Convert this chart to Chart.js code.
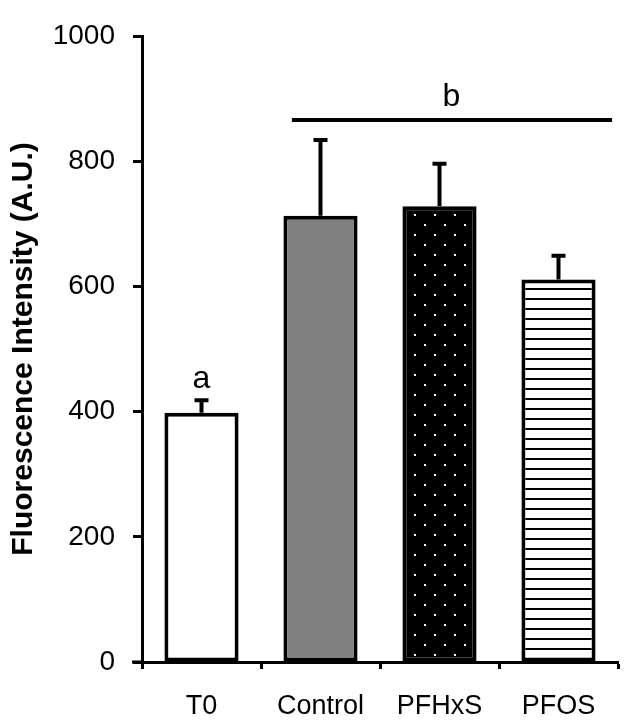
<!DOCTYPE html>
<html>
<head>
<meta charset="utf-8">
<script src="https://cdn.jsdelivr.net/npm/chart.js@4"></script>
<style>
  html, body { margin: 0; padding: 0; background: #fff; }
  #wrap { width: 644px; height: 725px; }
</style>
</head>
<body>
<div id="wrap"><canvas id="myChart" width="644" height="725"></canvas></div>
<script>
var groups = ['T0', 'Control', 'PFHxS', 'PFOS'];
var means = [398, 713, 728, 611];
var errors = [20, 121, 68, 38];
var yTicks = [0, 200, 400, 600, 800, 1000];
var letters = ['a', 'b'];

// dotted fill for PFHxS
function dotPattern() {
  var c = document.createElement('canvas');
  c.width = 20; c.height = 20;
  var g = c.getContext('2d');
  g.fillStyle = '#000';
  g.fillRect(0, 0, 20, 20);
  g.fillStyle = '#fff';
  g.fillRect(4, 4, 2, 2);
  g.fillRect(14, 14, 2, 2);
  return g.createPattern(c, 'repeat');
}

// horizontal stripes for PFOS
function stripePattern() {
  var c = document.createElement('canvas');
  c.width = 10; c.height = 10;
  var g = c.getContext('2d');
  g.fillStyle = '#fff';
  g.fillRect(0, 0, 10, 10);
  g.fillStyle = '#000';
  g.fillRect(0, 8, 10, 2);
  return g.createPattern(c, 'repeat');
}

var errorBars = {
  id: 'errorBars',
  afterDatasetsDraw: function(chart) {
    var ctx = chart.ctx;
    var y = chart.scales.y;
    var x = chart.scales.x;
    var meta = chart.getDatasetMeta(0);
    ctx.save();
    ctx.strokeStyle = '#000';
    ctx.lineWidth = 4;
    meta.data.forEach(function(bar, i) {
      var top = y.getPixelForValue(means[i] + errors[i]);
      ctx.beginPath();
      ctx.moveTo(bar.x, bar.y);
      ctx.lineTo(bar.x, top);
      ctx.moveTo(bar.x - 7, top);
      ctx.lineTo(bar.x + 7, top);
      ctx.stroke();
    });

    // significance bar over the treated groups
    var sy = y.getPixelForValue(866);
    ctx.lineWidth = 4;
    ctx.beginPath();
    ctx.moveTo(x.getPixelForValue(0.76), sy);
    ctx.lineTo(x.getPixelForValue(3.45), sy);
    ctx.stroke();

    // little stub of x axis left of y axis
    ctx.lineWidth = 3;
    ctx.beginPath();
    ctx.moveTo(chart.chartArea.left - 10, y.getPixelForValue(0));
    ctx.lineTo(chart.chartArea.left, y.getPixelForValue(0));
    ctx.stroke();

    ctx.fillStyle = '#000';
    ctx.font = '32px "Liberation Sans", Arial, sans-serif';
    ctx.textAlign = 'center';
    ctx.textBaseline = 'middle';
    ctx.fillText(letters[0], meta.data[0].x, y.getPixelForValue(452));
    ctx.fillText(letters[1], x.getPixelForValue(2.1), y.getPixelForValue(902));
    ctx.restore();
  }
};

new Chart('myChart', {
  type: 'bar',
  data: {
    labels: groups,
    datasets: [{
      data: means,
      backgroundColor: ['#ffffff', '#808080', dotPattern(), stripePattern()],
      borderColor: '#000',
      borderWidth: 4,
      borderSkipped: false,
      barPercentage: 0.7,
      categoryPercentage: 0.89
    }]
  },
  options: {
    responsive: false,
    animation: false,
    layout: {
      padding: { top: 36, right: 26, left: 0, bottom: 0 }
    },
    plugins: {
      legend: { display: false },
      tooltip: { enabled: false }
    },
    scales: {
      x: {
        afterFit: function(s) { s.height = 63; },
        ticks: {
          color: '#000',
          padding: 21,
          font: { size: 27, family: '"Liberation Sans", Arial, sans-serif' }
        },
        grid: {
          drawOnChartArea: false,
          color: '#000',
          tickLength: 7,
          tickWidth: 3
        },
        border: { color: '#000', width: 3 }
      },
      y: {
        min: 0,
        max: 1000,
        afterFit: function(s) { s.width = 142; },
        afterBuildTicks: function(s) {
          s.ticks = yTicks.map(function(v) { return { value: v }; });
        },
        title: {
          display: true,
          text: 'Fluorescence Intensity (A.U.)',
          color: '#000',
          padding: { top: 6, bottom: 0 },
          font: { size: 30, weight: 'bold', family: '"Liberation Sans", Arial, sans-serif' }
        },
        ticks: {
          color: '#000',
          padding: 18,
          font: { size: 28, family: '"Liberation Sans", Arial, sans-serif' },
          callback: function(v) { return String(v); }
        },
        grid: {
          drawOnChartArea: false,
          color: '#000',
          tickLength: 9,
          tickWidth: 3
        },
        border: { color: '#000', width: 3 }
      }
    }
  },
  plugins: [errorBars]
});
</script>
</body>
</html>
